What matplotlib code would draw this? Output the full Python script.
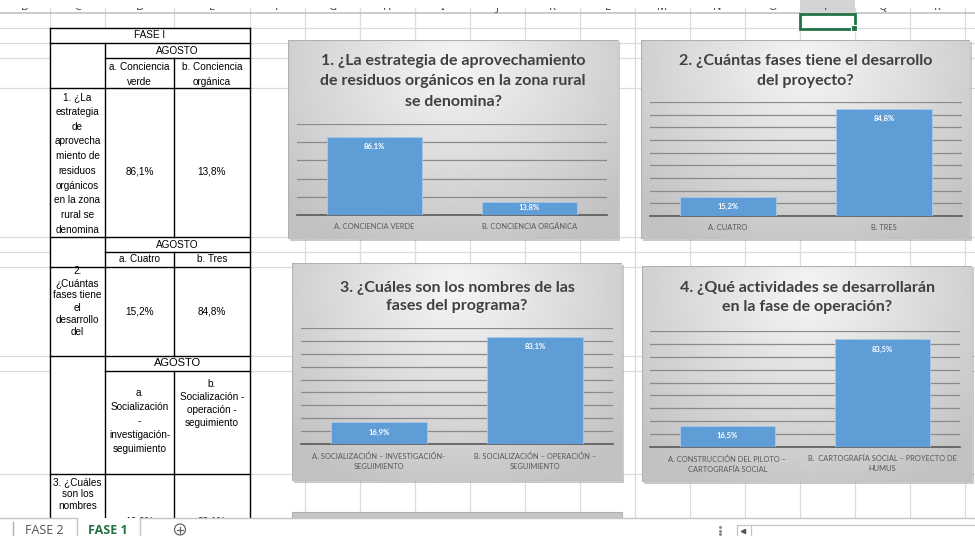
import matplotlib
matplotlib.use('Agg')
import matplotlib.pyplot as plt
import numpy as np
from matplotlib.patches import Rectangle, Circle

# ---------------- data ----------------
q1_title = "1. ¿La estrategia de aprovechamiento\nde residuos orgánicos en la zona rural\nse denomina?"
q1_cats = ["A. CONCIENCIA VERDE", "B. CONCIENCIA ORGÁNICA"]
q1_vals = [86.1, 13.8]

q2_title = "2. ¿Cuántas fases tiene el desarrollo\ndel proyecto?"
q2_cats = ["A. CUATRO", "B. TRES"]
q2_vals = [15.2, 84.8]

q3_title = "3. ¿Cuáles son los nombres de las\nfases del programa?"
q3_cats = ["A. SOCIALIZACIÓN – INVESTIGACIÓN-\nSEGUIMIENTO", "B. SOCIALIZACIÓN – OPERACIÓN –\nSEGUIMIENTO"]
q3_vals = [16.9, 83.1]

q4_title = "4. ¿Qué actividades se desarrollarán\nen la fase de operación?"
q4_cats = ["A. CONSTRUCCIÓN DEL PILOTO –\nCARTOGRAFÍA SOCIAL", "B.  CARTOGRAFÍA SOCIAL – PROYECTO DE\nHUMUS"]
q4_vals = [16.5, 83.5]

col_letters = list("BCDEFGHIJKLMNOPQR")
table_q1 = ["1. ¿La", "estrategia", "de", "aprovecha", "miento de", "residuos",
            "orgánicos", "en la zona", "rural se", "denomina"]
table_q2 = ["2.", "¿Cuántas", "fases tiene", "el", "desarrollo", "del"]
table_q3 = ["3. ¿Cuáles", "son los", "nombres"]
opt1 = [["a. Conciencia", "verde"], ["b. Conciencia", "orgánica"]]
opt2 = ["a. Cuatro", "b. Tres"]
opt3 = [["a.", "Socialización", "-", "investigación-", "seguimiento"],
        ["b.", "Socialización -", "operación -", "seguimiento"]]
sheet_tabs = ["FASE 2", "FASE 1"]


def pct(v):
    return f"{v:.1f}%".replace('.', ',')


W, H = 975, 536
fig = plt.figure(figsize=(9.75, 5.36), dpi=100)
fig.patch.set_facecolor('white')


def fig_axes(x0, y0, x1, y1, z):
    return fig.add_axes([x0 / W, 1 - y1 / H, (x1 - x0) / W, (y1 - y0) / H], zorder=z)


bg = fig.add_axes([0, 0, 1, 1], zorder=0)
bg.set_xlim(0, W)
bg.set_ylim(H, 0)
bg.axis('off')

# ---------------- spreadsheet grid ----------------
col_edges = [50, 105, 174, 250, 305, 360, 415, 470, 525, 580, 635, 690, 745, 800, 855, 910, 965]
row_edges = [28, 43, 58, 88, 237, 252, 267, 356, 371, 474]
for x in col_edges:
    bg.plot([x, x], [0, 518], color='#dcdcdc', lw=0.9, zorder=1)
for y in row_edges:
    bg.plot([0, W], [y, y], color='#dcdcdc', lw=0.9, zorder=1)
bg.plot([0, W], [13, 13], color='#bdbdbd', lw=1.1, zorder=1)

# column header letters (only bottoms visible)
bg.add_patch(Rectangle((800, 0), 55, 13, fc='#d4d4d4', ec='none', zorder=1.5))
edges = [0] + col_edges
for i, L in enumerate(col_letters):
    cx = (edges[i] + edges[i + 1]) / 2
    bg.text(cx, 10.3, L, ha='center', va='baseline', fontsize=8, color='#444444',
            family='Noto Sans', zorder=3)
bg.add_patch(Rectangle((0, 0), W, 7.6, fc='white', ec='none', zorder=4))
bg.add_patch(Rectangle((800, 0), 55, 7.6, fc='#d4d4d4', ec='none', zorder=4.1))

# selection
bg.add_patch(Rectangle((800, 13.5), 55, 15, fill=False, ec='#217346', lw=2, zorder=6))
bg.add_patch(Rectangle((851, 25), 6, 6, fc='#217346', ec='white', lw=0.8, zorder=6.1))

# ---------------- table ----------------
bg.add_patch(Rectangle((50, 28), 200, 510, fc='white', ec='none', zorder=2))
hl = [(50, 250, 28), (50, 250, 43), (105, 250, 58), (50, 250, 88), (50, 250, 237),
      (105, 250, 252), (50, 250, 267), (50, 250, 356), (105, 250, 371), (50, 250, 474)]
vl = [(50, 28, 536), (250, 28, 536), (105, 43, 536), (174, 58, 237), (174, 252, 356),
      (174, 371, 536)]
for x0, x1, y in hl:
    bg.plot([x0, x1], [y, y], color='black', lw=1, zorder=3)
for x, y0, y1 in vl:
    bg.plot([x, x], [y0, y1], color='black', lw=1, zorder=3)

tk = dict(ha='center', va='center', fontsize=7.2, color='black', family='Liberation Sans', zorder=4)
cA, cB, cQ = 139.5, 212, 77.5
bg.text(150, 35.5, "FASE I", **tk)
bg.text(177.5, 50.5, "AGOSTO", **tk)
for j, col in enumerate(opt1):
    for k, s in enumerate(col):
        bg.text([cA, cB][j], 67 + 15 * k, s, **tk)
for s, y in zip(table_q1, np.linspace(97, 230, len(table_q1))):
    bg.text(cQ, y, s, **tk)
bg.text(cA, 172, pct(q1_vals[0]), **tk)
bg.text(cB, 172, pct(q1_vals[1]), **tk)
bg.text(177.5, 244.5, "AGOSTO", **tk)
bg.text(cA, 259.5, opt2[0], **tk)
bg.text(cB, 259.5, opt2[1], **tk)
for s, y in zip(table_q2, np.linspace(271, 332, len(table_q2))):
    bg.text(cQ, y, s, **tk)
bg.text(cA, 312, pct(q2_vals[0]), **tk)
bg.text(cB, 312, pct(q2_vals[1]), **tk)
tk8 = dict(tk); tk8['fontsize'] = 8
bg.text(177.5, 363.5, "AGOSTO", **tk8)
for s, y in zip(opt3[0], np.linspace(393, 449, len(opt3[0]))):
    bg.text(cA, y, s, **tk)
for s, y in zip(opt3[1], np.linspace(384, 423, len(opt3[1]))):
    bg.text(cB, y, s, **tk)
for s, y in zip(table_q3, np.linspace(482, 506, len(table_q3))):
    bg.text(cQ, y, s, **tk)
bg.text(cA, 521, pct(q3_vals[0]), **tk)
bg.text(cB, 521, pct(q3_vals[1]), **tk)


# ---------------- charts ----------------
def gradient():
    yy, xx = np.mgrid[0:1:120j, 0:1:200j]
    r = np.sqrt(((xx - 0.5) / 0.7) ** 2 + ((yy - 0.12) / 1.0) ** 2)
    return 0.96 - 0.2 * np.clip(r, 0, 1)


def chart(box, plot, ymax, step, title, title_y, tls, cats, vals, pad):
    x0, y0, x1, y1 = box
    bg.add_patch(Rectangle((x0 + 2, y0 + 2), x1 - x0, y1 - y0, fc='#a0a0a0', alpha=0.55,
                           ec='none', zorder=6))
    cb = fig_axes(x0, y0, x1, y1, 2)
    cb.set_xlim(x0, x1)
    cb.set_ylim(y1, y0)
    cb.axis('off')
    cb.imshow(gradient(), cmap='gray', vmin=0, vmax=1, extent=(x0, x1, y1, y0),
              aspect='auto', interpolation='bilinear')
    cb.add_patch(Rectangle((x0, y0), x1 - x0, y1 - y0, fill=False, ec='#b0b0b0', lw=0.8))
    cb.text((x0 + x1) / 2, title_y, title, ha='center', va='center', fontsize=11.5,
            fontweight='bold', color='#404040', family='Lato', linespacing=tls)

    px0, py0, px1, py1 = plot
    ax = fig_axes(px0, py0, px1, py1, 3)
    ax.set_facecolor('none')
    ax.bar(range(len(vals)), vals, width=0.61, color='#5f9dd6', ec='#a9c8ea', lw=0.6,
           zorder=3)
    ax.set_xlim(-0.5, len(vals) - 0.5)
    ax.set_ylim(0, ymax)
    ax.set_yticks(np.arange(0, ymax + 0.1, step))
    ax.yaxis.grid(True, color='#8a8a8a', lw=0.9)
    ax.set_axisbelow(True)
    for s in ['top', 'left', 'right']:
        ax.spines[s].set_visible(False)
    ax.spines['bottom'].set_color('#595959')
    ax.spines['bottom'].set_linewidth(1.2)
    ax.set_yticklabels([])
    ax.tick_params(axis='y', length=0)
    ax.set_xticks(range(len(cats)))
    ax.set_xticklabels(cats, fontsize=5.4, color='#595959', family='Lato', linespacing=1.5)
    ax.tick_params(axis='x', length=0, pad=pad)
    ph = py1 - py0
    for i, v in enumerate(vals):
        hpx = v / ymax * ph
        off = min(10, hpx - 8)
        ax.annotate(pct(v), (i, v), xytext=(0, -off * 0.72), textcoords='offset points',
                    ha='center', va='center', fontsize=5.5, fontweight='bold',
                    color='white', family='Lato', zorder=4)


chart((288, 40, 618, 239), (297, 124, 607, 215), 100, 20, q1_title, 81.5, 1.55, q1_cats, q1_vals, 6)
chart((641, 40, 970, 239), (650, 102, 962, 216), 90, 10, q2_title, 71, 1.55, q2_cats, q2_vals, 6)
chart((292, 263, 622, 481), (301, 328, 613, 444), 90, 10, q3_title, 297, 1.45, q3_cats, q3_vals, 6)
chart((642, 266, 972, 482), (650, 331, 960, 447), 90, 10, q4_title, 297.5, 1.45, q4_cats, q4_vals, 6)

# next chart (partially visible)
bg.add_patch(Rectangle((292, 512), 330, 12, fc='#c6c6c6', ec='#b0b0b0', lw=0.8, zorder=6))

# ---------------- sheet tab bar ----------------
tb = fig.add_axes([0, 0, 1, 1], zorder=20)
tb.set_xlim(0, W)
tb.set_ylim(H, 0)
tb.axis('off')
tb.patch.set_alpha(0)
tb.add_patch(Rectangle((0, 518), W, 20, fc='white', ec='none'))
tb.plot([0, 77], [518, 518], color='#c6c6c6', lw=1)
tb.plot([140, W], [518, 518], color='#c6c6c6', lw=1)
for x in [77, 140]:
    tb.plot([x, x], [518, 536], color='#c6c6c6', lw=1)
tb.plot([13, 13], [522, 536], color='#b0b0b0', lw=1)
tb.text(44, 531, sheet_tabs[0], ha='center', va='center', fontsize=9, color='#505050',
        family='Open Sans')
tb.text(108, 531, sheet_tabs[1], ha='center', va='center', fontsize=9, color='#217346',
        family='Open Sans', fontweight='bold')
tb.add_patch(Circle((180, 529.5), 5.5, fill=False, ec='#666666', lw=0.9))
tb.plot([177, 183], [529.5, 529.5], color='#666666', lw=0.9)
tb.plot([180, 180], [526.5, 532.5], color='#666666', lw=0.9)
for y in [527, 530.5, 534]:
    tb.plot([720], [y], marker='o', ms=1.1, color='#888888')
tb.add_patch(Rectangle((737, 525), 245, 14, fc='white', ec='#c6c6c6', lw=0.9))
tb.plot([751, 751], [525, 536], color='#c6c6c6', lw=0.9)
tb.plot([743], [531], marker='<', ms=3, color='#555555')

fig.savefig('out.png', dpi=100)
